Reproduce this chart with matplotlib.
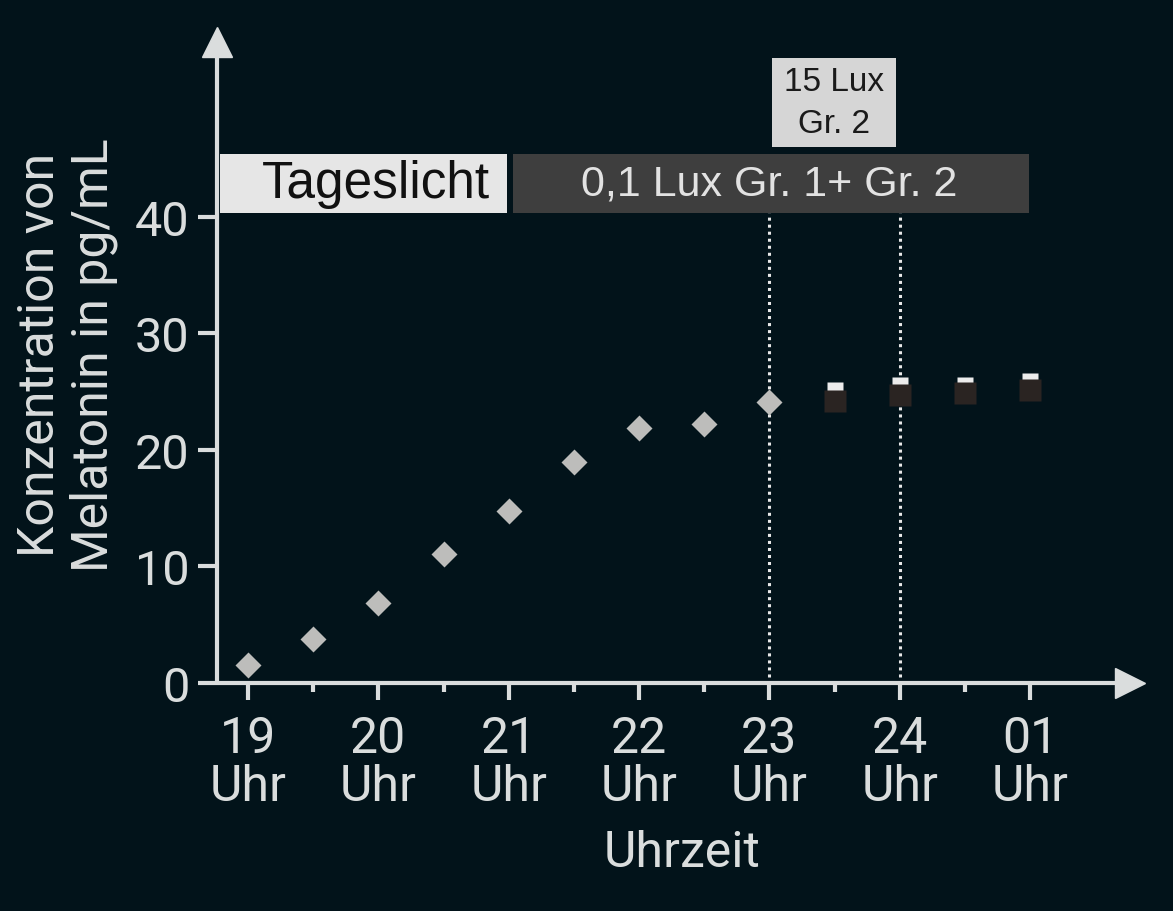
import matplotlib
matplotlib.use("Agg")
import matplotlib.pyplot as plt
from matplotlib.patches import Rectangle

# data
hours_g1 = [19, 19.5, 20, 20.5, 21, 21.5, 22, 22.5, 23]
mel_g1 = [1.55, 3.8, 6.85, 11.1, 14.8, 19.0, 21.9, 22.2, 24.15]

hours_late = [23.5, 24, 24.5, 25]
mel_dark = [24.2, 24.7, 24.9, 25.1]     # dark squares
mel_light = [25.1, 25.6, 25.6, 25.9]    # light squares behind them

hour_ticks = [19, 20, 21, 22, 23, 24, 25]
hour_labels = ["19\nUhr", "20\nUhr", "21\nUhr", "22\nUhr", "23\nUhr", "24\nUhr", "01\nUhr"]
half_ticks = [19.5, 20.5, 21.5, 22.5, 23.5, 24.5]
y_ticks = [0, 10, 20, 30, 40]

bg = "#02131a"
fg = "#dadddd"

plt.rcParams['font.family'] = ['Roboto', 'DejaVu Sans']

fig = plt.figure(figsize=(11.73, 9.12), dpi=100, facecolor=bg)
ax = fig.add_axes([217/1173, 1-684/912, (1130-217)/1173, (684-43)/912])
ax.set_facecolor(bg)

ax.set_xlim(18.762, 25.767)
ax.set_ylim(0, 55.0)

for s in ["top", "right"]:
    ax.spines[s].set_visible(False)
for s in ["left", "bottom"]:
    ax.spines[s].set_color(fg)
    ax.spines[s].set_linewidth(3)
    ax.spines[s].set_capstyle("butt")

# arrow heads
ax.plot(1, 0, ">", ms=21.5, color=fg, transform=ax.transAxes, clip_on=False, zorder=5)
ax.plot(0, 1, "^", ms=21.5, color=fg, transform=ax.transAxes, clip_on=False, zorder=5)

ax.set_xticks(hour_ticks, labels=hour_labels)
ax.set_xticks(half_ticks, minor=True)
ax.set_yticks(y_ticks)
ax.tick_params(axis="x", which="major", length=12, width=3, color=fg, labelcolor=fg,
               labelsize=36, pad=10)
ax.tick_params(axis="x", which="minor", length=6.5, width=3, color=fg)
ax.tick_params(axis="y", length=14, width=3, color=fg, labelcolor=fg, labelsize=35, pad=6)
for lab in ax.get_xticklabels():
    lab.set_linespacing(1.0)

# light condition boxes
box_lo, box_hi = 40.3, 45.4
ax.add_patch(Rectangle((18.785, box_lo), 20.99 - 18.785, box_hi - box_lo,
                       facecolor="#e6e6e6", edgecolor="none", clip_on=False, zorder=6))
ax.text(19.982, (box_lo + box_hi) / 2, "Tageslicht", ha="center", va="center",
        fontsize=37, color="#111111", family=["Liberation Sans", "DejaVu Sans"],
        clip_on=False, zorder=7)
ax.add_patch(Rectangle((21.03, box_lo), 24.99 - 21.03, box_hi - box_lo,
                       facecolor="#3e3e3e", edgecolor="none", clip_on=False, zorder=6))
ax.text(23.0, (box_lo + box_hi) / 2, "0,1 Lux Gr. 1+ Gr. 2", ha="center", va="center",
        fontsize=31, color="#e2e2e2", family=["Liberation Sans", "DejaVu Sans"],
        clip_on=False, zorder=7)
ax.add_patch(Rectangle((23.02, 46.0), 23.97 - 23.02, 53.6 - 46.0,
                       facecolor="#d6d6d6", edgecolor="none", clip_on=False, zorder=6))
ax.text(23.495, 49.8, "15 Lux\nGr. 2", ha="center", va="center", linespacing=1.45,
        fontsize=24, color="#1a1a1a", family=["Liberation Sans", "DejaVu Sans"],
        clip_on=False, zorder=7)

# dotted markers for light change
ax.vlines([23, 24], 0.5, box_lo, colors="#e8e8e8", linewidth=2.2,
          linestyles=(0, (1, 1.3)), zorder=2)

ax.plot(hours_g1, mel_g1, "D", ms=13, color="#bdbdbb", mec="none", zorder=4)
ax.plot(hours_late, mel_light, "s", ms=11.5, color="#ececec", mec="none", zorder=3)
ax.plot(hours_late, mel_dark, "s", ms=16.5, color="#2a2422", mec="none", zorder=4)

fig.text(67/1173, 1-355/912, "Konzentration von\nMelatonin in pg/mL", rotation=90,
         ha="center", va="center", multialignment="center", linespacing=1.12,
         fontsize=36, color=fg)
fig.text(682/1173, 1-853/912, "Uhrzeit", ha="center", va="center", fontsize=36, color=fg)

fig.savefig("out.png", dpi=100, facecolor=bg)
